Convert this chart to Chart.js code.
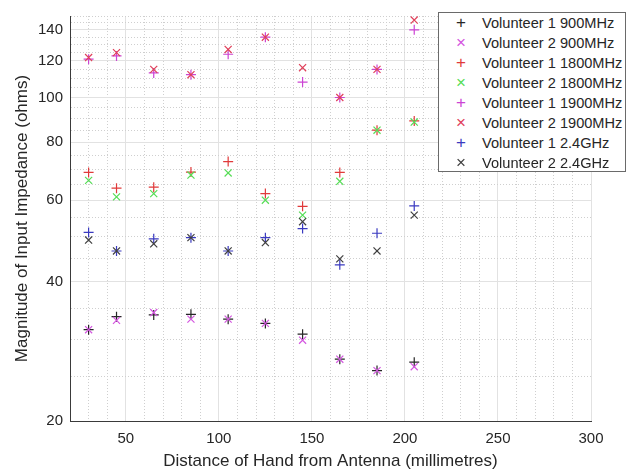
<!DOCTYPE html>
<html>
<head>
<meta charset="utf-8">
<script src="https://cdn.jsdelivr.net/npm/chart.js@4"></script>
<style>
  html, body { margin: 0; padding: 0; background: #fff; }
  #wrap { position: relative; width: 631px; height: 472px; }
  #legend {
    position: absolute; left: 438px; top: 12px; width: 186px; height: 158px;
    border: 1px solid #6a6a6a; background: #fff;
    font-family: "Liberation Sans", Arial, sans-serif; font-size: 14.6px; color: #262626;
  }
  #legend div { position: relative; height: 20px; line-height: 20px; }
  #legend span.m { position: absolute; left: 14px; width: 16px; text-align: center; font-size: 17px; }
  #legend span.t { position: absolute; left: 43px; white-space: nowrap; }
</style>
</head>
<body>
<div id="wrap">
  <canvas id="chart" width="631" height="472"></canvas>
  <div id="legend"></div>
</div>
<script>
var distances = [30, 45, 65, 85, 105, 125, 145, 165, 185, 205];

var vol1_900 = [31.5, 33.6, 33.9, 34.0, 33.2, 32.5, 30.8, 27.2, 25.7, 26.8];
var vol2_900 = [31.5, 33.0, 34.3, 33.2, 33.2, 32.5, 29.9, 27.2, 25.7, 26.2];
var vol1_1800 = [68.9, 63.7, 64.0, 69.0, 72.7, 62.0, 58.2, 68.9, 85.0, 89.0];
var vol2_1800 = [66.2, 61.0, 62.0, 68.0, 68.7, 60.0, 55.7, 65.9, 85.0, 88.5];
var vol1_1900 = [121, 123, 113, 112, 124, 135, 108, 100, 115, 140];
var vol2_1900 = [122, 125, 115, 112, 127, 135, 116, 100, 115, 147];
var vol1_24 = [51.1, 46.6, 49.5, 49.8, 46.6, 49.8, 52.1, 43.5, 50.9, 58.3];
var vol2_24 = [49.2, 46.6, 48.3, 49.8, 46.6, 48.6, 53.9, 44.8, 46.6, 55.7];

var seriesNames = ['Volunteer 1 900MHz', 'Volunteer 2 900MHz', 'Volunteer 1 1800MHz', 'Volunteer 2 1800MHz',
                   'Volunteer 1 1900MHz', 'Volunteer 2 1900MHz', 'Volunteer 1 2.4GHz', 'Volunteer 2 2.4GHz'];
var seriesValues = [vol1_900, vol2_900, vol1_1800, vol2_1800, vol1_1900, vol2_1900, vol1_24, vol2_24];
var seriesColors = ['#262626', '#d455e0', '#e03a3a', '#55dd55', '#cc44d4', '#e0405a', '#3a3ac0', '#404040'];
var seriesMarkers = ['cross', 'crossRot', 'cross', 'crossRot', 'cross', 'crossRot', 'cross', 'crossRot'];

var yTickValues = [20, 25, 30, 35, 40, 45, 50, 55, 60, 65, 70, 75, 80, 85, 90, 95, 100,
                   105, 110, 115, 120, 125, 130, 135, 140, 145, 150];
var yTickLabels = [20, 40, 60, 80, 100, 120, 140];
var xTickLabels = [50, 100, 150, 200, 250, 300];

var datasets = seriesNames.map(function (name, i) {
    return {
        label: name,
        data: distances.map(function (d, j) { return { x: d, y: seriesValues[i][j] }; }),
        pointStyle: seriesMarkers[i],
        borderColor: seriesColors[i],
        backgroundColor: seriesColors[i],
        pointRadius: 5,
        pointBorderWidth: 1.2,
        showLine: false,
        order: seriesNames.length - i
    };
});

var tickFont = { family: '"Liberation Sans", Arial, sans-serif', size: 15 };
var titleFont = { family: '"Liberation Sans", Arial, sans-serif', size: 17 };

new Chart(document.getElementById('chart'), {
    type: 'scatter',
    data: { datasets: datasets },
    options: {
        responsive: false,
        animation: false,
        layout: { padding: { top: 10, right: 40, left: 0, bottom: 0 } },
        scales: {
            x: {
                type: 'linear',
                min: 20, max: 300,
                afterFit: function (s) { s.height = 51; },
                ticks: {
                    stepSize: 10, autoSkip: false, maxRotation: 0, padding: 9,
                    color: '#262626', font: tickFont,
                    callback: function (v) { return xTickLabels.indexOf(v) >= 0 ? String(v) : ''; }
                },
                grid: {
                    drawTicks: false,
                    color: function (ctx) { return ctx.tick && ctx.tick.value % 50 === 0 ? '#e2e2e2' : '#cfcfcf'; },
                    lineWidth: 1
                },
                border: {
                    color: '#3a3a3a', width: 1,
                    dash: function (ctx) { return ctx.tick && ctx.tick.value % 50 !== 0 ? [1, 2] : []; }
                },
                title: {
                    display: true, text: 'Distance of Hand from Antenna (millimetres)',
                    color: '#262626', font: titleFont, padding: { top: 0, bottom: 0 }
                }
            },
            y: {
                type: 'logarithmic',
                min: 20, max: 150,
                afterFit: function (s) { s.width = 70; },
                afterBuildTicks: function (s) { s.ticks = yTickValues.map(function (v) { return { value: v }; }); },
                ticks: {
                    autoSkip: false, padding: 7, color: '#262626', font: tickFont,
                    callback: function (v) { return yTickLabels.indexOf(v) >= 0 ? String(v) : ''; }
                },
                grid: {
                    drawTicks: false,
                    color: function (ctx) { return ctx.tick && ctx.tick.value % 20 === 0 ? '#e2e2e2' : '#cfcfcf'; },
                    lineWidth: 1
                },
                border: {
                    color: '#3a3a3a', width: 1,
                    dash: function (ctx) { return ctx.tick && ctx.tick.value % 20 !== 0 ? [1, 2] : []; }
                },
                title: {
                    display: true, text: 'Magnitude of Input Impedance (ohms)',
                    color: '#262626', font: titleFont, padding: { top: 12, bottom: 0 }
                }
            }
        },
        plugins: {
            legend: { display: false },
            tooltip: { enabled: false }
        }
    }
});

var legend = document.getElementById('legend');
seriesNames.forEach(function (name, i) {
    var row = document.createElement('div');
    var m = document.createElement('span');
    m.className = 'm';
    m.style.color = seriesColors[i];
    m.textContent = seriesMarkers[i] === 'cross' ? '+' : '\u00d7';
    var t = document.createElement('span');
    t.className = 't';
    t.textContent = name;
    row.appendChild(m);
    row.appendChild(t);
    legend.appendChild(row);
});
</script>
</body>
</html>
